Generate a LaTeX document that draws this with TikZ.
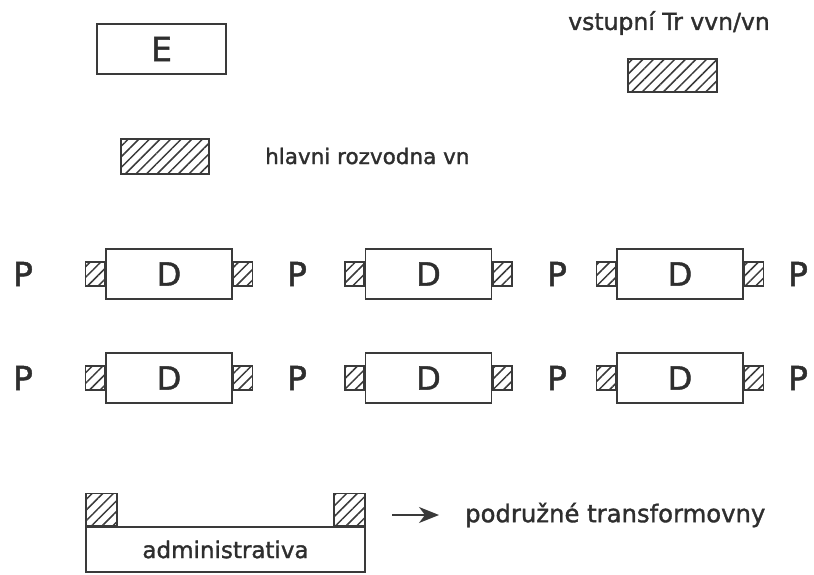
\documentclass[tikz,border=0pt]{standalone}
\usepackage{fontspec}
\setmainfont{DejaVu Sans}[FakeBold=1.4]
\usetikzlibrary{patterns.meta,arrows.meta}
\definecolor{ink}{HTML}{2E2E2E}
\definecolor{edge}{HTML}{3A3A3A}
\tikzset{
  box/.style={draw=edge, line width=1.7pt, fill=white, inner sep=0pt},
  hatchbox/.style={draw=edge, line width=1.5pt, inner sep=0pt,
    pattern={Lines[angle=45,distance=7.5pt,line width=1.5pt]}, pattern color=edge},
  dbox/.style={box, minimum width=126pt, minimum height=50pt,
    font=\fontsize{32}{32}\selectfont, text=ink},
  sbox/.style={hatchbox, minimum width=19pt, minimum height=24pt},
  plabel/.style={font=\fontsize{33}{33}\selectfont, text=ink, inner sep=0pt},
  lbl/.style={text=ink, inner sep=0pt},
}
\begin{document}
\begin{tikzpicture}[x=1pt,y=-1pt]
\useasboundingbox (0,0) rectangle (814,575);

% power plant block
\node[box, minimum width=129pt, minimum height=50pt,
  font=\fontsize{33}{33}\selectfont, text=ink] (E) at (161.5,49) {E};

% incoming transformer
\node[lbl, font=\fontsize{23.5}{23.5}\selectfont] (trlbl) at (669,23) {vstupní Tr vvn/vn};
\node[hatchbox, minimum width=89pt, minimum height=33pt] (tr) at (672.5,75.5) {};

% main substation
\node[hatchbox, minimum width=88pt, minimum height=35pt] (hr) at (165,156.5) {};
\node[lbl, font=\fontsize{21.5}{21.5}\selectfont, anchor=west] (hrlbl) at (265,156) {hlavni rozvodna vn};

% two rows of workshops D with their substations and P labels
\foreach \r/\y in {1/274, 2/378} {
  \foreach \g/\x in {1/169, 2/428.5, 3/680} {
    \node[dbox] (d\r\g) at (\x,\y) {D};
    \node[sbox, anchor=east] (l\r\g) at (d\r\g.west) {};
    \node[sbox, anchor=west] (r\r\g) at (d\r\g.east) {};
  }
  \foreach \k/\x in {1/23, 2/297, 3/557, 4/798} {
    \node[plabel] (p\r\k) at (\x,\y) {P};
  }
}

% administration building with its two substations
\node[box, minimum width=279pt, minimum height=45pt,
  font=\fontsize{23}{23}\selectfont, text=ink] (adm) at (225.5,549.5) {administrativa};
\node[hatchbox, minimum width=31pt, minimum height=32pt, anchor=south west] (al) at (adm.north west) {};
\node[hatchbox, minimum width=31pt, minimum height=32pt, anchor=south east] (ar) at (adm.north east) {};

% legend arrow
\coordinate (a0) at (392,515);
\coordinate (a1) at (439,515);
\node[lbl, font=\fontsize{24.3}{24.3}\selectfont, anchor=west] (pt) at (465,515) {podružné transformovny};
\draw[draw=edge, fill=edge, line width=1.6pt,
  -{Stealth[length=20pt,width=16pt,inset=6pt]}] (a0) -- (a1);
\end{tikzpicture}
\end{document}
